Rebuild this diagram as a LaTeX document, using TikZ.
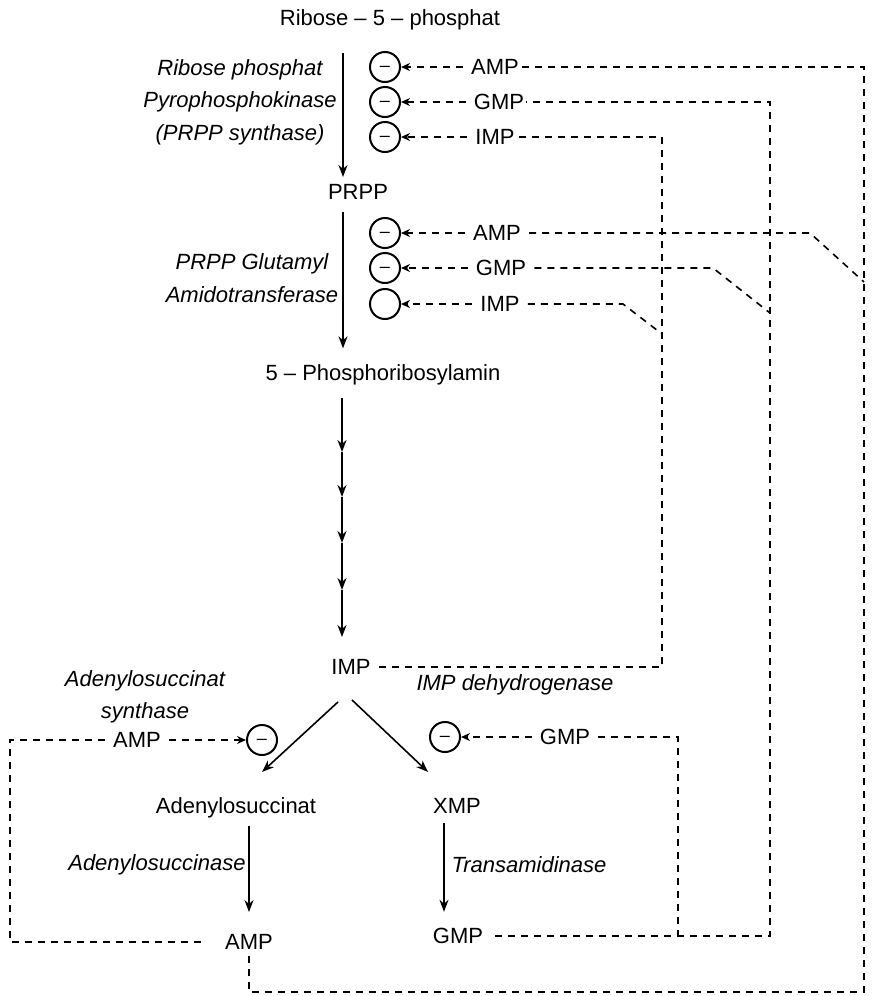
\documentclass[tikz,border=0pt]{standalone}
\usepackage{fontspec}
\setmainfont{Liberation Sans}
\usepackage{tikz}
\usetikzlibrary{arrows.meta, calc}

\begin{document}
\begin{tikzpicture}[x=0.5pt, y=-0.5pt,
    every node/.style={font=\fontsize{11}{16}\selectfont, inner sep=1pt},
    enz/.style={font=\fontsize{11}{16.25}\selectfont\itshape, align=center},
    inhib/.style={circle, draw, line width=1pt, minimum size=15pt, inner sep=0pt,
      font=\fontsize{9}{9}\selectfont},
    rxn/.style={-{Stealth[length=6pt, width=4.5pt]}, line width=0.8pt},
    fb/.style={dash pattern=on 3.5pt off 3pt, line width=0.8pt},
    fbarrow/.style={fb, -{Stealth[length=4.5pt, width=4pt]}, shorten <=3pt}]
    \useasboundingbox (0,0) rectangle (872,996);
    \newcommand{\inh}{\smash{\raisebox{-2.2pt}{–}}}

    \node (r5p) at (390,20) {Ribose – 5 – phosphat};
    \node (prpp) at (358,192) {PRPP};
    \node (pra) at (383,375) {5 – Phosphoribosylamin};
    \node (imp) at (351,667) {IMP};
    \node (ads) at (236,808) {Adenylosuccinat};
    \node (xmp) at (457,806) {XMP};
    \node (amp) at (249,942) {AMP};
    \node (gmp) at (458,936) {GMP};

    \node[enz] (prs) at (240,102) {Ribose phosphat\\Pyrophosphokinase\\(PRPP synthase)};
    \node[enz] (gat) at (252,278) {PRPP Glutamyl\\Amidotransferase};
    \node[enz] (adss) at (145,697) {Adenylosuccinat\\synthase};
    \node[enz] (impdh) at (515,685) {IMP dehydrogenase};
    \node[enz] (adsl) at (157,865) {Adenylosuccinase};
    \node[enz] (trans) at (529,865) {Transamidinase};

    \foreach \n/\y/\s/\lab/\x in {1/67/\inh/AMP/495, 2/102/\inh/GMP/499, 3/137/\inh/IMP/495,
        4/233/\inh/AMP/497, 5/268/\inh/GMP/501, 6/304/{}/IMP/500}{%
      \node[inhib] (i\n) at (385,\y) {\s};
      \node (e\n) at (\x,\y) {\lab};
      \draw[fbarrow] (e\n.west) -- (i\n.east);
    }
    \node[inhib] (i7) at (262,740) {\inh};
    \node (e7) at (137,740) {AMP};
    \draw[fbarrow] (e7.east) -- (i7.west);
    \node[inhib] (i8) at (445,737) {\inh};
    \node (e8) at (565,737) {GMP};
    \draw[fbarrow] (e8.west) -- (i8.east);

    \coordinate (axis) at (343,0);
    \draw[rxn, shorten <=10pt, shorten >=2.5pt] (axis |- r5p.south) -- (axis |- prpp.north);
    \draw[rxn, shorten <=5pt, shorten >=7pt] (axis |- prpp.south) -- (axis |- pra.north);
    \foreach \y [count=\i] in {452,497,543,590}
      \coordinate (c\i) at (342,\y);
    \draw[rxn, shorten <=5pt] (c1 |- pra.south) -- (c1);
    \foreach \i/\j in {1/2,2/3,3/4}
      \draw[rxn] (c\i) -- (c\j);
    \draw[rxn, shorten >=10pt] (c4) -- (c4 |- imp.north);
    \draw[rxn] (imp.south) ++(-13,25) -- ++(-76,70);
    \draw[rxn] (imp.south) ++(1,23) -- ++(76,72);
    \coordinate (ta) at (249,0);
    \coordinate (tx) at (444,0);
    \draw[rxn, shorten <=2.5pt, shorten >=10pt] (ta |- ads.south) -- (ta |- amp.north);
    \draw[rxn, shorten <=3.5pt, shorten >=7pt] (tx |- xmp.south) -- (tx |- gmp.north);

    \coordinate (railA) at (864,992);
    \coordinate (railG) at (770,936);
    \coordinate (railI) at (662,667);
    \coordinate (railL) at (10,942);
    \draw[fb, shorten <=2pt] (amp.south) |- (railA) -- (railA |- e1) -- (e1.east);
    \draw[fb, shorten <=3pt] (e4.east) -- (810,233) -- (railA |- 0,282);
    \draw[fb, shorten <=5pt] (gmp.east) -- (railG) -- (railG |- e2) -- (e2.east);
    \draw[fb, shorten <=3pt] (e5.east) -- (713,268) -- (railG |- 0,313);
    \draw[fb, shorten <=3pt] (imp.east) -- (railI) -- (railI |- e3) -- (e3.east);
    \draw[fb, shorten <=3pt] (e6.east) -- (623,304) -- (railI |- 0,334);
    \draw[fb, shorten <=3pt] (e8.east) -| (678,936);
    \draw[fb, shorten <=3pt, shorten >=11pt] (e7.west) -| (railL) -- (amp.west);
\end{tikzpicture}
\end{document}
